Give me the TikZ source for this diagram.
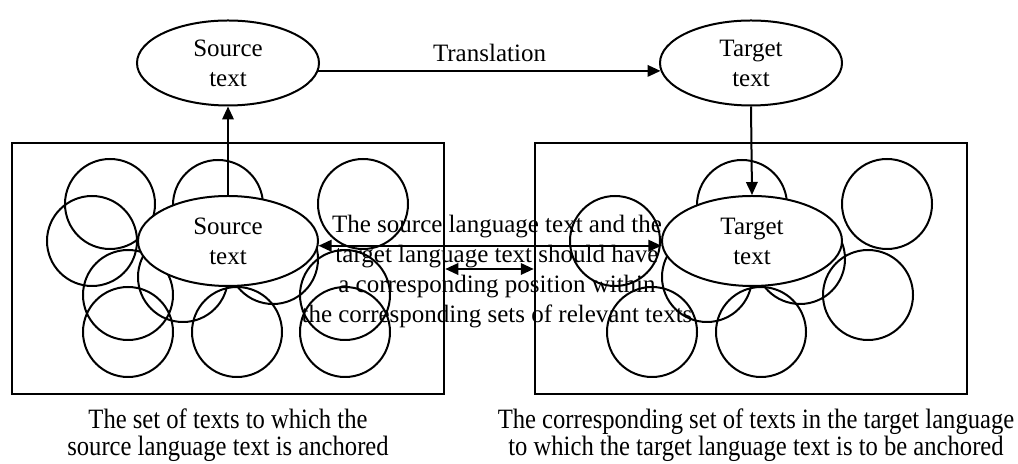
\documentclass[tikz,border=0pt]{standalone}
\usepackage{fontspec}
\setmainfont{Liberation Serif}
\usepackage{graphicx}
\usetikzlibrary{arrows.meta}
\usetikzlibrary{shapes.geometric}

% captions are a bit taller and tighter than the rest
\newcommand{\capstack}[1]{\scalebox{0.985}[1.12]{\fontsize{10}{8.9}\selectfont
    \begin{tabular}{@{}c@{}}#1\end{tabular}}}

\begin{document}
\begin{tikzpicture} [x = 0.4pt, y = -0.4pt, thick,
    > = {Triangle[length = 5.2pt, width = 4.6pt]},
    txt/.style = {ellipse, draw, fill = white, inner sep = 0, align = center,
        minimum width = 72pt, minimum height = 36pt},
    tset/.style = {draw, minimum width = 173pt, minimum height = 100.4pt}]
    \useasboundingbox (0, 0) rectangle (1018, 464);

    \node[tset] (srcset) at (228, 268.5) {};
    \node[tset] (tgtset) at (751, 268.5) {};

    \foreach \x/\y in {110/204, 92/241, 218/205, 363/204, 128/295, 183/277,
        273/259, 345/295, 128/332, 237/332, 345/332}
        \draw (\x, \y) circle[radius = 18pt];
    \foreach \x/\y in {615/241, 742/205, 887/204, 868/295, 707/277, 800/259,
        652/332, 761/332}
        \draw (\x, \y) circle[radius = 18pt];

    \node[txt] (srcin) at (228, 241) {Source\\text};
    \node[txt] (tgtin) at (752, 241) {Target\\text};
    \node[txt, minimum width = 72.8pt, minimum height = 34pt]
        (srctop) at (228, 63) {Source\\text};
    \node[txt, minimum width = 72.8pt, minimum height = 34pt]
        (tgttop) at (751, 63) {Target\\text};

    \node[align = center] (note) at (497, 272) {The source language text and the\\
        target language text should have\\ a corresponding position within\\
        the corresponding sets of relevant texts};

    \draw[->] (srctop.-5) -- node[above] (trl) {Translation} (tgttop.185);
    \draw[->] (srcin.north) -- (srctop.south);
    \draw[->] (tgttop.south) -- (tgtin.north);
    \draw[<->] (srcin.-3) -- (tgtin.183);
    \coordinate (gap) at (490, 269);
    \draw[<->] (srcset.east |- gap) -- (tgtset.west |- gap);

    \node (srccap) at (228, 436) {\capstack{The set of texts to which the\\
        source language text is anchored}};
    \node (tgtcap) at (756, 436) {\capstack{The corresponding set of texts in the target language\\
        to which the target language text is to be anchored}};
\end{tikzpicture}
\end{document}
